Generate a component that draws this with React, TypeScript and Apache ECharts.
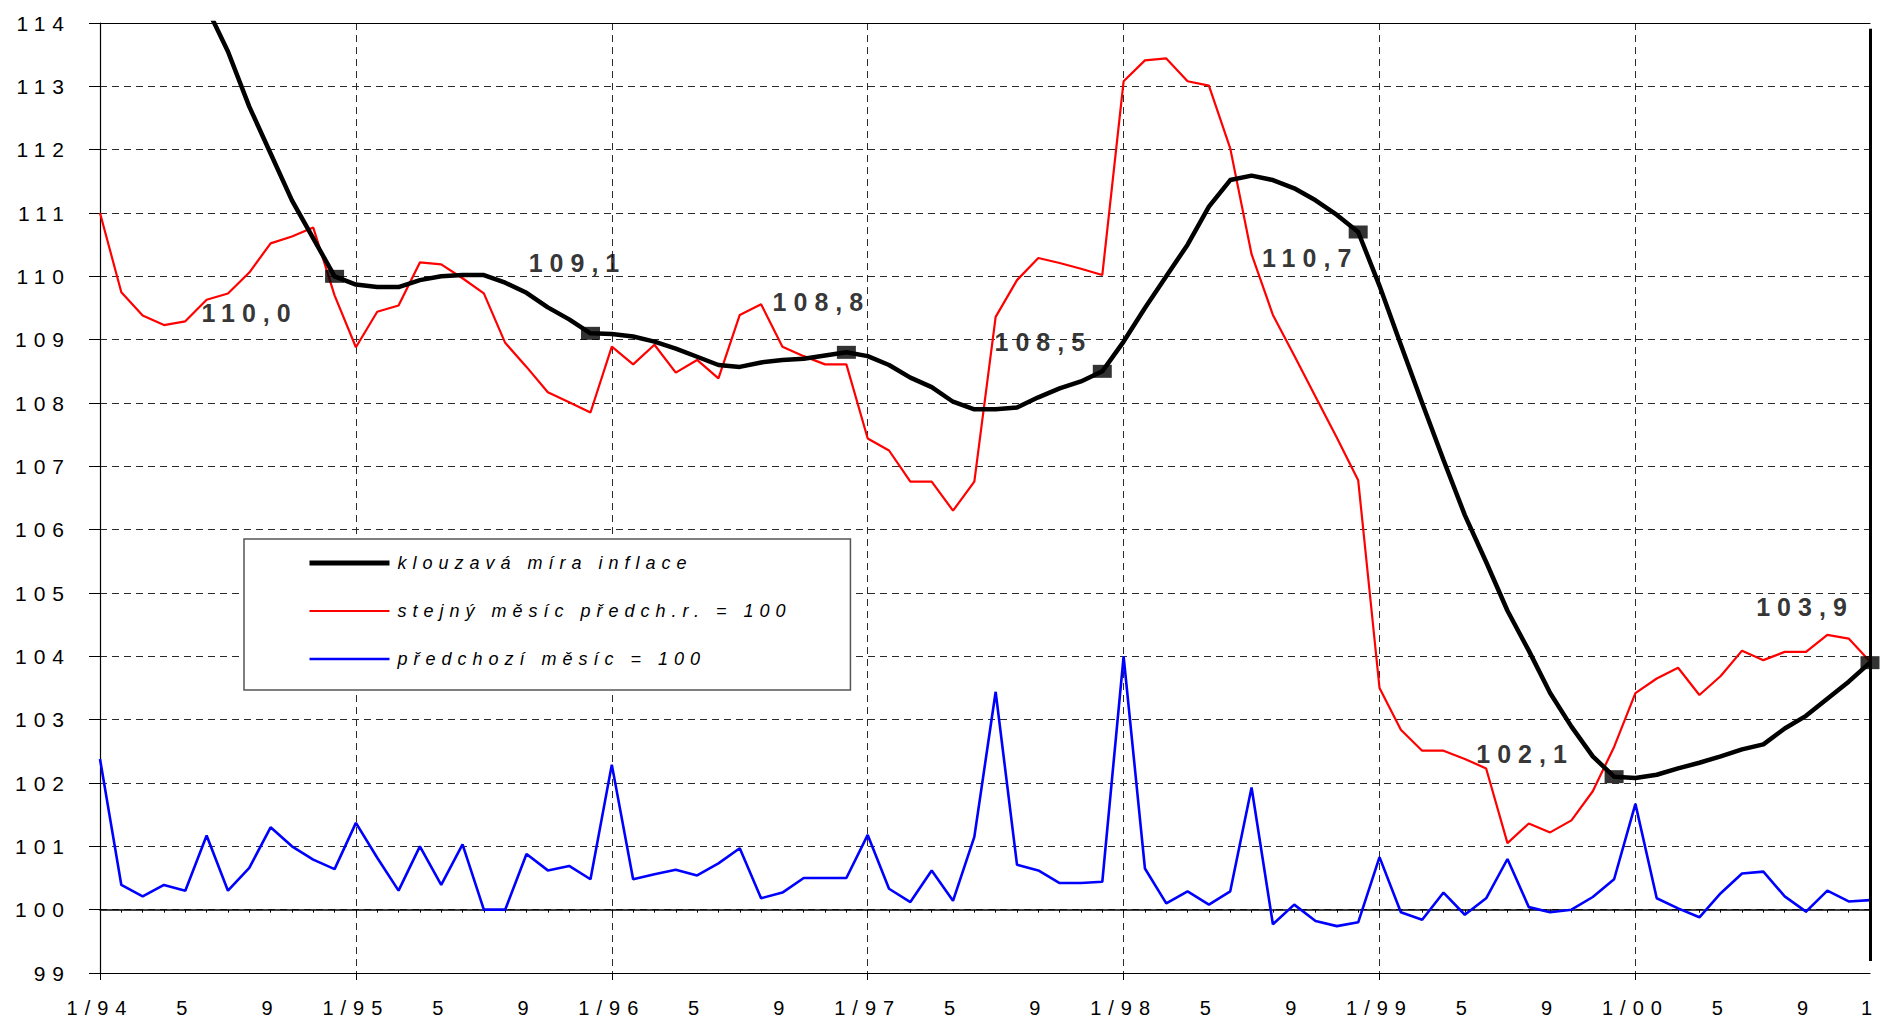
import React, { useEffect, useRef } from "react";
import * as echarts from "echarts";

// ---------- data ----------
const years = ["94", "95", "96", "97", "98", "99", "00"];
const months: string[] = [];
years.forEach((y) => {
  for (let m = 1; m <= 12; m++) months.push(`${m}/${y}`);
});

// tick labels shown under the axis (every 4th month)
const tickLabels: string[] = months.map((m, i) =>
  i % 12 === 0 ? m : i % 12 === 4 ? "5" : i % 12 === 8 ? "9" : ""
);
tickLabels[83] = "1";

// klouzavá míra inflace (12-month moving average)
const movingAvg = [
  120.0, 119.0, 118.0, 116.9, 115.6, 114.25, 113.55, 112.68, 111.94, 111.2, 110.6, 110.0,
  109.87, 109.83, 109.83, 109.94, 110.0, 110.02, 110.02, 109.9, 109.74, 109.51, 109.32, 109.1,
  109.09, 109.05, 108.97, 108.86, 108.73, 108.6, 108.57, 108.64, 108.68, 108.7, 108.75, 108.8,
  108.74, 108.6, 108.4, 108.25, 108.02, 107.9, 107.9, 107.93, 108.09, 108.23, 108.34, 108.5,
  108.97, 109.5, 110.0, 110.5, 111.1, 111.52, 111.59, 111.52, 111.39, 111.2, 110.97, 110.7,
  109.85, 108.92, 108.0, 107.1, 106.23, 105.49, 104.72, 104.09, 103.42, 102.89, 102.42, 102.1,
  102.08, 102.13, 102.23, 102.32, 102.42, 102.53, 102.61, 102.86, 103.06, 103.33, 103.6, 103.9,
];

// stejný měsíc předch. r. = 100
const yearOnYear = [
  111.0, 109.75, 109.38, 109.23, 109.29, 109.63, 109.73, 110.06, 110.52, 110.63, 110.77, 109.7,
  108.88, 109.44, 109.54, 110.22, 110.19, 109.97, 109.73, 108.95, 108.57, 108.17, 108.01, 107.85,
  108.89, 108.61, 108.92, 108.48, 108.68, 108.39, 109.39, 109.56, 108.89, 108.74, 108.61, 108.61,
  107.44, 107.25, 106.76, 106.76, 106.3, 106.76, 109.36, 109.94, 110.29, 110.21, 110.12, 110.02,
  113.08, 113.41, 113.44, 113.08, 113.01, 112.02, 110.35, 109.39, 108.75, 108.1, 107.45, 106.78,
  103.5, 102.84, 102.51, 102.51, 102.38, 102.23, 101.05, 101.36, 101.22, 101.41, 101.87, 102.57,
  103.42, 103.65, 103.82, 103.39, 103.69, 104.09, 103.94, 104.07, 104.07, 104.34, 104.28, 103.92,
];

// předchozí měsíc = 100
const monthOnMonth = [
  102.38, 100.39, 100.21, 100.39, 100.3, 101.17, 100.3, 100.66, 101.3, 101.0, 100.79, 100.64,
  101.37, 100.82, 100.3, 101.0, 100.39, 101.03, 100.0, 100.0, 100.88, 100.62, 100.69, 100.48,
  102.29, 100.48, 100.56, 100.63, 100.54, 100.73, 100.97, 100.18, 100.27, 100.5, 100.5, 100.5,
  101.18, 100.33, 100.12, 100.62, 100.14, 101.15, 103.44, 100.71, 100.62, 100.42, 100.42, 100.44,
  104.0, 100.65, 100.1, 100.29, 100.08, 100.29, 101.93, 99.77, 100.08, 99.82, 99.74, 99.8,
  100.83, 99.96, 99.84, 100.27, 99.92, 100.18, 100.8, 100.04, 99.96, 100.0, 100.2, 100.48,
  101.67, 100.18, 100.02, 99.88, 100.26, 100.57, 100.6, 100.21, 99.97, 100.3, 100.13, 100.15,
];

// December markers = annual averages
const decemberIdx = [11, 23, 35, 47, 59, 71, 83];
const annualAvg = [110.0, 109.1, 108.8, 108.5, 110.7, 102.1, 103.9];

const seriesNames = [
  "klouzavá míra inflace",
  "stejný měsíc předch.r. = 100",
  "předchozí měsíc = 100",
];

// ---------- styling ----------
const FONT = "'Liberation Sans', Arial, Helvetica, sans-serif";
const labelOffsets: [number, number][] = [
  [-85, 37],
  [-13, -70],
  [-25, -50],
  [-59, -29],
  [-48, 26],
  [-89, -23],
  [-65, -56],
];
const legendWidths = [5, 2.2, 2.6];
const legendColors = ["#000000", "#ff0000", "#0000ff"];
const gridDash = { color: "#2a2a2a", width: 1, type: [7, 5] as number[] };

const option: any = {
  animation: false,
  backgroundColor: "#fff",
  textStyle: { fontFamily: FONT, color: "#000" },
  grid: { left: 100, right: 13, top: 23, bottom: 48, containLabel: false },
  legend: {
    data: seriesNames.map((n, k) => ({
      name: n,
      itemStyle: { opacity: 0, color: "transparent", borderWidth: 0 },
      lineStyle: { width: legendWidths[k], color: legendColors[k] },
    })),
    orient: "vertical",
    left: 244,
    top: 539,
    padding: [14, 227, 21, 63],
    itemWidth: 80,
    itemHeight: 20,
    itemGap: 28,
    borderColor: "#555",
    borderWidth: 1.5,
    backgroundColor: "#fff",
    itemStyle: { opacity: 0, color: "transparent", borderWidth: 0 },
    textStyle: {
      fontSize: 18,
      fontStyle: "italic",
      fontFamily: FONT,
      color: "#000",
      lineHeight: 20,
      padding: [0, 0, 0, 3],
    },
  },
  xAxis: [
    {
      type: "category",
      data: months,
      boundaryGap: false,
      position: "bottom",
      axisLine: { onZero: false, lineStyle: { color: "#000", width: 1.2 } },
      axisTick: {
        show: true,
        length: 7,
        interval: (i: number) => i % 12 === 0,
        lineStyle: { color: "#000" },
      },
      axisLabel: {
        interval: (i: number) => tickLabels[i] !== "",
        formatter: (_v: string, i: number) => tickLabels[i],
        fontSize: 20,
        color: "#000",
        fontFamily: FONT,
        margin: 25,
      },
      splitLine: {
        show: true,
        interval: (i: number) => i % 12 === 0,
        lineStyle: gridDash,
      },
    },
    {
      type: "category",
      data: months,
      boundaryGap: false,
      position: "bottom",
      axisLine: {
        onZero: true,
        onZeroAxisIndex: 1,
        lineStyle: { color: "#000", width: 1.5 },
      },
      axisTick: { show: true, interval: 0, length: 3, lineStyle: { color: "#000" } },
      axisLabel: { show: false },
      splitLine: { show: false },
    },
    {
      type: "category",
      data: months,
      boundaryGap: false,
      position: "top",
      axisLine: { show: true, onZero: false, lineStyle: { color: "#000", width: 1.2 } },
      axisTick: { show: false },
      axisLabel: { show: false },
      splitLine: { show: false },
    },
  ],
  yAxis: [
    {
      type: "value",
      min: 99,
      max: 114,
      interval: 1,
      axisLine: { show: true, lineStyle: { color: "#000", width: 1.2 } },
      axisTick: { show: true, length: 11, lineStyle: { color: "#000" } },
      axisLabel: { fontSize: 21, color: "#000", fontFamily: FONT, margin: 29 },
      splitLine: { show: true, lineStyle: gridDash },
    },
    {
      type: "value",
      min: -1,
      max: 14,
      interval: 1,
      show: false,
      splitLine: { show: false },
    },
  ],
  series: [
    {
      name: seriesNames[1],
      type: "line",
      data: yearOnYear,
      symbol: "none",
      z: 3,
      itemStyle: { color: "#ff0000" },
      lineStyle: { color: "#ff0000", width: 2.2 },
    },
    {
      name: seriesNames[2],
      type: "line",
      data: monthOnMonth,
      symbol: "none",
      z: 3,
      itemStyle: { color: "#0000ff" },
      lineStyle: { color: "#0000ff", width: 2.6 },
    },
    {
      name: seriesNames[0],
      type: "line",
      data: movingAvg,
      symbol: "none",
      z: 4,
      itemStyle: { color: "#000" },
      lineStyle: { color: "#000", width: 4.5, join: "round" },
    },
    {
      name: "december",
      type: "scatter",
      z: 6,
      symbol: "rect",
      symbolSize: [19, 13],
      itemStyle: { color: "#000" },
      data: decemberIdx.map((idx, k) => ({
        value: [idx, annualAvg[k]],
        label: { offset: labelOffsets[k] },
      })),
      label: {
        show: true,
        position: "inside",
        fontSize: 25,
        fontWeight: "bold",
        fontFamily: FONT,
        color: "#000",
        formatter: (p: any) => p.value[1].toFixed(1).replace(".", ","),
      },
      markLine: {
        silent: true,
        symbol: ["none", "none"],
        label: { show: false },
        lineStyle: { color: "#000", width: 3, type: "solid" },
        data: [
          [
            { coord: [months[83], 113.91] },
            { coord: [months[83], 99.19] },
          ],
        ],
      },
    },
  ],
};

export default function App() {
  const ref = useRef<HTMLDivElement>(null);
  useEffect(() => {
    if (!ref.current) return;
    const chart = echarts.init(ref.current, null, { renderer: "svg" });
    chart.setOption(option);
    return () => chart.dispose();
  }, []);
  return (
    <>
      <style>{`.inflchart text{letter-spacing:7px}.inflchart text[style*="italic"]{letter-spacing:6px}`}</style>
      <div
        ref={ref}
        className="inflchart"
        style={{ position: "absolute", left: 0, top: 0, width: 1883, height: 1021, background: "#fff" }}
      />
    </>
  );
}
